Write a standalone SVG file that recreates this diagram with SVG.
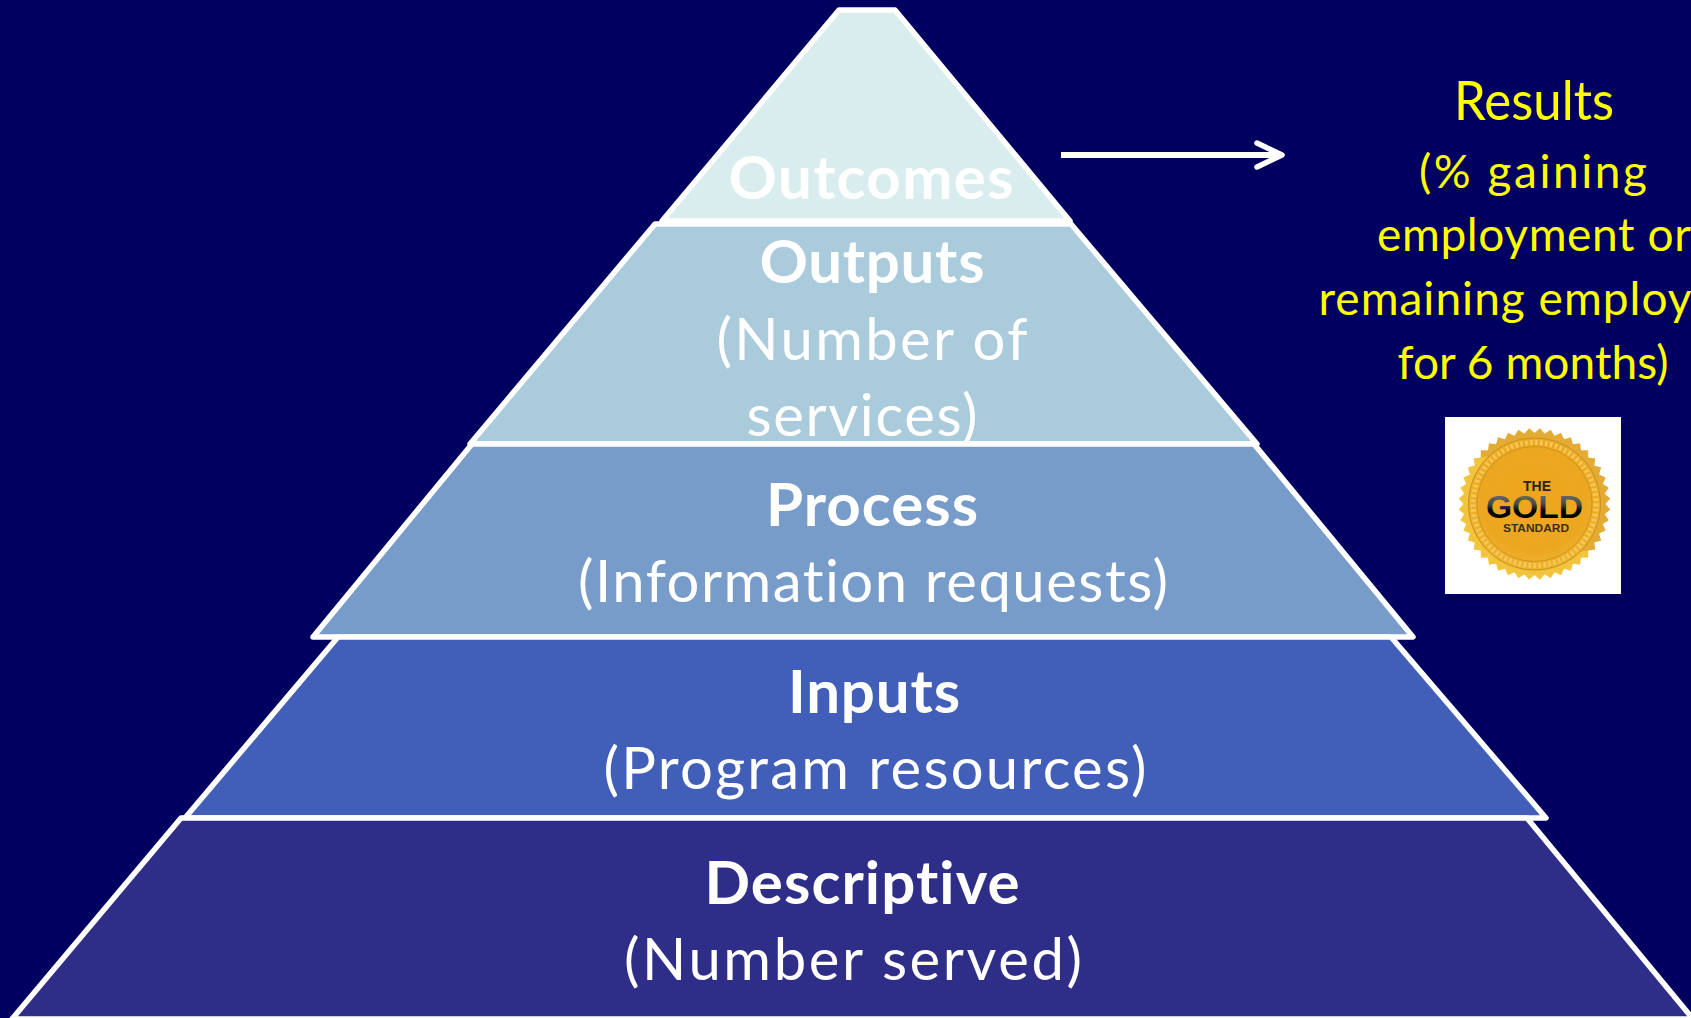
<svg xmlns="http://www.w3.org/2000/svg" width="1691" height="1018" viewBox="0 0 1691 1018">
<defs>
<radialGradient id="gold" cx="0.5" cy="0.45" r="0.62"><stop offset="0" stop-color="#eea51c"/><stop offset="0.65" stop-color="#eca721"/><stop offset="1" stop-color="#f0bd3c"/></radialGradient>
<linearGradient id="rim" x1="0" y1="0" x2="0" y2="1"><stop offset="0" stop-color="#e3aa35"/><stop offset="0.6" stop-color="#edb52f"/><stop offset="1" stop-color="#f3c63e"/></linearGradient>
<linearGradient id="goldtxt" x1="0" y1="0" x2="0" y2="1"><stop offset="0" stop-color="#7a7a78"/><stop offset="0.4" stop-color="#4a4a48"/><stop offset="0.6" stop-color="#000"/><stop offset="1" stop-color="#0c0c0c"/></linearGradient>
<rect id="sq" x="-53.7" y="-53.7" width="107.4" height="107.4" fill="url(#rim)"/>
</defs>
<style>
.tier{stroke:#fff;stroke-width:5.5;stroke-linejoin:round}
text{font-family:"Lato","Open Sans","Liberation Sans",sans-serif;text-anchor:middle;font-variant-ligatures:none}
.b{font-weight:700;font-size:60px;fill:#fff}
.r{font-size:58px;fill:#fff}
.y{font-size:46px;fill:#ff0}
.s{font-family:"Liberation Sans",Arial,sans-serif;font-weight:700}
</style>
<rect width="1691" height="1018" fill="#000060"/>
<g id="outcomes">
<polygon class="tier" fill="#d9edee" points="839,10 895,10 1070,221 662,221"/>
<text class="b" x="871" y="199" textLength="285">Outcomes</text>
</g>
<g id="outputs">
<polygon class="tier" fill="#a9cbdc" points="655,224 1071,224 1257,444 470,444"/>
<text class="b" x="872" y="283" textLength="225">Outputs</text>
<text class="r" x="872" y="360" textLength="311">(Number of</text>
<text class="r" x="862" y="436" textLength="231">services)</text>
</g>
<g id="process">
<polygon class="tier" fill="#789cca" points="472,444 1254,444 1413,637 313,637"/>
<text class="b" x="872" y="526" textLength="212">Process</text>
<text class="r" x="873" y="602" textLength="590">(Information requests)</text>
</g>
<g id="inputs">
<polygon class="tier" fill="#415fb8" points="338,637 1391,637 1546,818 185,818"/>
<text class="b" x="874" y="713" textLength="172">Inputs</text>
<text class="r" x="875" y="789" textLength="543">(Program resources)</text>
</g>
<g id="descriptive">
<polygon class="tier" fill="#2e2e88" points="181,818 1527,818 1693,1019 12,1019"/>
<text class="b" x="862" y="904" textLength="315">Descriptive</text>
<text class="r" x="853" y="980" textLength="458">(Number served)</text>
</g>
<g id="connectors" fill="none" stroke="#fff" stroke-width="6" stroke-linecap="round" stroke-linejoin="round">
<path stroke-linecap="butt" d="M1061,155H1280"/>
<path stroke-width="5.5" d="M1257,143L1282,155L1257,167"/>
</g>
<g id="results">
<text class="y" style="font-size:54px" x="1534" y="120" textLength="160" lengthAdjust="spacingAndGlyphs">Results</text>
<text class="y" x="1533" y="188" textLength="228">(% gaining</text>
<text class="y" x="1534" y="251" textLength="314">employment or</text>
<text class="y" x="1505" y="315" textLength="373">remaining employ</text>
<text class="y" x="1533" y="379" textLength="271">for 6 months)</text>
</g>
<g id="gold-seal">
<rect x="1445" y="417" width="176" height="177" fill="#fff"/>
<g transform="translate(1534.5 504)">
<use href="#sq"/>
<use href="#sq" transform="rotate(8.18)"/>
<use href="#sq" transform="rotate(16.36)"/>
<use href="#sq" transform="rotate(24.55)"/>
<use href="#sq" transform="rotate(32.73)"/>
<use href="#sq" transform="rotate(40.91)"/>
<use href="#sq" transform="rotate(49.09)"/>
<use href="#sq" transform="rotate(57.27)"/>
<use href="#sq" transform="rotate(65.45)"/>
<use href="#sq" transform="rotate(73.64)"/>
<use href="#sq" transform="rotate(81.82)"/>
<circle r="66" fill="url(#gold)" stroke="#c98f22" stroke-width="1"/>
<circle r="61.5" fill="none" stroke="#f5c955" stroke-width="5" stroke-dasharray="2.5 2.5"/>
<circle r="57.5" fill="none" stroke="#cf9420" stroke-width="1"/>
</g>
<text class="s" x="1537" y="491" font-size="14" fill="#2a2418" textLength="28" lengthAdjust="spacingAndGlyphs">THE</text>
<text class="s" x="1534.5" y="518" font-size="31" fill="url(#goldtxt)" textLength="97" lengthAdjust="spacingAndGlyphs">GOLD</text>
<text class="s" x="1536" y="532" font-size="10" fill="#3a2f18" textLength="66" lengthAdjust="spacingAndGlyphs">STANDARD</text>
</g>
</svg>
